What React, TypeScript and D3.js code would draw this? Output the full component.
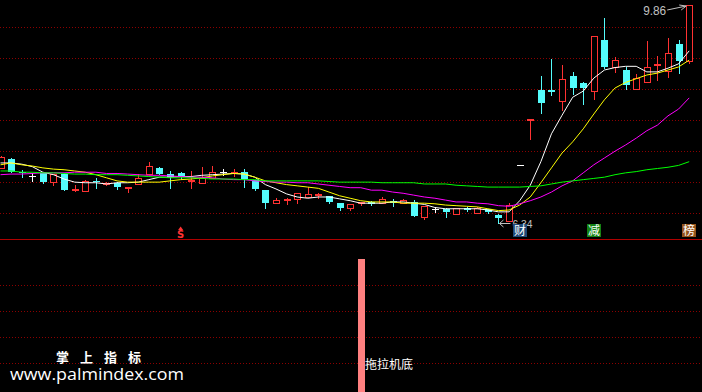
import React from "react";
import * as d3 from "d3";

const W = 702;
const H = 392;

const opens = [7.23, 7.37, 7.16, 7.10, 7.15, 7.00, 7.13, 6.86, 6.86, 7.02,
  6.96, 6.99, 6.91, 6.97, 7.13, 7.23, 7.13, 7.14, 7.02, 6.99,
  7.07, 7.16, 7.16, 7.16, 7.04, 6.87, 6.66, 6.72, 6.73, 6.76,
  6.80, 6.78, 6.66, 6.58, 6.65, 6.68, 6.66, 6.69, 6.66, 6.68,
  6.44, 6.57, 6.57, 6.49, 6.58, 6.50, 6.57, 6.47, 6.37, 7.28,
  8.01, 8.49, 8.48, 8.31, 8.71, 8.60, 8.47, 9.30, 8.86, 8.81,
  8.50, 8.62, 8.90, 8.79, 9.23, 8.96];
const closes = [7.41, 7.16, 7.14, 7.10, 7.00, 7.13, 6.87, 6.89, 7.02, 7.00,
  6.99, 6.92, 6.92, 7.07, 7.26, 7.13, 7.08, 7.10, 7.04, 7.07,
  7.16, 7.16, 7.17, 7.05, 6.89, 6.66, 6.71, 6.73, 6.82, 6.81,
  6.81, 6.68, 6.58, 6.65, 6.68, 6.65, 6.73, 6.67, 6.71, 6.45,
  6.62, 6.57, 6.52, 6.58, 6.55, 6.58, 6.52, 6.42, 6.63, 7.28,
  8.02, 8.28, 8.46, 8.67, 8.52, 8.52, 9.36, 8.86, 8.97, 8.57,
  8.68, 8.86, 8.91, 9.09, 8.96, 9.86];
const highs = [7.42, 7.39, 7.20, 7.15, 7.15, 7.13, 7.15, 6.95, 7.04, 7.07,
  7.00, 7.00, 6.92, 7.13, 7.33, 7.24, 7.18, 7.16, 7.18, 7.24,
  7.26, 7.21, 7.21, 7.21, 7.04, 6.87, 6.74, 6.74, 6.82, 6.92,
  6.82, 6.78, 6.66, 6.65, 6.68, 6.70, 6.76, 6.73, 6.73, 6.71,
  6.62, 6.60, 6.58, 6.58, 6.60, 6.60, 6.57, 6.49, 6.66, 7.28,
  8.02, 8.71, 8.99, 8.89, 8.78, 8.62, 9.36, 9.65, 9.02, 8.86,
  8.75, 9.28, 9.04, 9.33, 9.30, 9.86];
const lows = [7.23, 7.16, 7.08, 7.02, 6.99, 6.95, 6.87, 6.86, 6.86, 6.91,
  6.95, 6.89, 6.84, 6.97, 7.13, 7.13, 6.91, 7.05, 6.91, 6.99,
  7.07, 7.12, 7.10, 6.92, 6.88, 6.58, 6.66, 6.65, 6.66, 6.76,
  6.74, 6.66, 6.55, 6.55, 6.63, 6.63, 6.66, 6.62, 6.66, 6.45,
  6.41, 6.52, 6.44, 6.49, 6.53, 6.50, 6.50, 6.34, 6.37, 7.28,
  7.70, 8.12, 8.41, 8.16, 8.42, 8.26, 8.34, 8.84, 8.78, 8.50,
  8.50, 8.62, 8.65, 8.70, 8.76, 8.92];

const ma5 = [7.31, 7.31, 7.29, 7.25, 7.16, 7.12, 7.05, 7.00, 6.99, 6.99,
  6.97, 6.99, 6.99, 7.00, 7.04, 7.08, 7.08, 7.09, 7.09, 7.11,
  7.12, 7.13, 7.14, 7.13, 7.08, 6.96, 6.89, 6.81, 6.76, 6.74,
  6.76, 6.76, 6.73, 6.70, 6.66, 6.66, 6.66, 6.68, 6.68, 6.66,
  6.64, 6.59, 6.57, 6.57, 6.57, 6.57, 6.55, 6.52, 6.52, 6.70,
  6.95, 7.33, 7.78, 8.08, 8.37, 8.47, 8.68, 8.81, 8.85, 8.87,
  8.87, 8.78, 8.78, 8.84, 8.91, 9.12];
const ma10 = [7.28, 7.31, 7.28, 7.26, 7.23, 7.21, 7.20, 7.18, 7.16, 7.12,
  7.07, 7.02, 7.00, 7.00, 7.00, 7.00, 7.02, 7.04, 7.05, 7.07,
  7.10, 7.12, 7.14, 7.13, 7.08, 7.02, 6.99, 6.96, 6.94, 6.92,
  6.90, 6.84, 6.78, 6.74, 6.70, 6.68, 6.68, 6.68, 6.66, 6.66,
  6.66, 6.65, 6.63, 6.62, 6.61, 6.60, 6.57, 6.54, 6.55, 6.63,
  6.76, 6.99, 7.23, 7.47, 7.65, 7.86, 8.10, 8.33, 8.52, 8.61,
  8.67, 8.73, 8.76, 8.81, 8.86, 8.97];
const ma20 = [7.12, 7.13, 7.13, 7.14, 7.15, 7.15, 7.15, 7.16, 7.16, 7.16,
  7.14, 7.14, 7.13, 7.12, 7.11, 7.11, 7.10, 7.09, 7.08, 7.08,
  7.07, 7.05, 7.04, 7.04, 7.02, 7.01, 7.00, 7.00, 6.99, 6.99,
  6.97, 6.95, 6.93, 6.91, 6.91, 6.87, 6.87, 6.84, 6.82, 6.79,
  6.76, 6.74, 6.71, 6.68, 6.68, 6.66, 6.65, 6.62, 6.61, 6.65,
  6.70, 6.76, 6.84, 6.94, 7.02, 7.15, 7.28, 7.39, 7.50, 7.60,
  7.71, 7.83, 7.92, 8.07, 8.18, 8.36];
const ma60 = [7.18, 7.18, 7.16, 7.16, 7.15, 7.15, 7.14, 7.13, 7.13, 7.12,
  7.12, 7.12, 7.11, 7.10, 7.09, 7.08, 7.07, 7.07, 7.07, 7.06,
  7.05, 7.05, 7.05, 7.04, 7.04, 7.02, 7.02, 7.02, 7.02, 7.02,
  7.02, 7.01, 7.00, 7.00, 7.00, 7.00, 6.99, 6.99, 6.99, 6.99,
  6.97, 6.97, 6.97, 6.95, 6.94, 6.93, 6.92, 6.92, 6.92, 6.92,
  6.93, 6.94, 6.97, 7.00, 7.02, 7.04, 7.06, 7.08, 7.12, 7.15,
  7.17, 7.20, 7.22, 7.24, 7.27, 7.33];

const signalIndex = [34];
const signalLabel = "拖拉机底";
const markerIndex = [17, 49, 56, 65];
const markerLabel = ["S", "财", "减", "榜"];
const watermarkTitle = "掌 上 指 标";
const watermarkUrl = "www.palmindex.com";

const UP = "#ff3232";
const DOWN = "#54fcfc";
const GRID = "#8c0000";
const LABEL = "#c0c0c0";
const markerFill: Record<string, string> = { "财": "#1f4a78", "减": "#138213", "榜": "#94531a" };

export default function App() {
  const n = opens.length;
  const x = d3.scaleLinear().domain([0, n - 1]).range([0.5, 689.2]);
  const pMin = d3.min(lows) as number;
  const pMax = d3.max(highs) as number;
  const y = d3.scaleLinear().domain([pMin, pMax]).range([223, 5]);
  const gridY = d3.scaleLinear().domain([0, 6]).range([27, 213]);
  const lowGridY = d3.scaleLinear().domain([0, 3]).range([285, 363]);
  const sigY = d3.scaleLinear().domain([0, 1]).range([392, 259]);
  const line = d3.line<number>().x((_, i) => x(i)).y((d) => y(d));

  const iMax = highs.indexOf(pMax);
  const iMin = lows.indexOf(pMin);
  const hx = x(iMax), hy = y(pMax);
  const lx = x(iMin), ly = y(pMin);

  const candles = opens.map((o, i) => {
    const c = closes[i], h = highs[i], l = lows[i];
    const cx = Math.round(x(i));
    const left = cx - 3;
    const yh = Math.round(y(h)), yl = Math.round(y(l));
    const yo = Math.round(y(o)), yc = Math.round(y(c));
    if (c > o) {
      const top = yc, bot = yo;
      if (bot - top <= 2) {
        return (
          <g key={i} fill={UP}>
            <rect x={left} y={top} width={7} height={Math.max(2, bot - top)} />
            {yh < top && <rect x={cx} y={yh} width={1} height={top - yh} />}
            {yl > top + 1 && <rect x={cx} y={top + 1} width={1} height={yl - top} />}
          </g>
        );
      }
      return (
        <g key={i}>
          <rect x={left + 0.5} y={top + 0.5} width={6} height={bot - top} fill="#000" stroke={UP} />
          {yh < top && <rect x={cx} y={yh} width={1} height={top - yh} fill={UP} />}
          {yl > bot + 1 && <rect x={cx} y={bot + 1} width={1} height={yl - bot} fill={UP} />}
        </g>
      );
    }
    if (c < o) {
      return (
        <g key={i} fill={DOWN}>
          <rect x={cx} y={yh} width={1} height={Math.max(1, yl - yh + 1)} />
          <rect x={left} y={yo} width={7} height={Math.max(1, yc - yo)} />
        </g>
      );
    }
    return (
      <g key={i} fill="#ffffff">
        {yl > yh && <rect x={cx} y={yh} width={1} height={yl - yh + 1} />}
        <rect x={left} y={yo} width={7} height={1} />
      </g>
    );
  });

  return (
    <svg width={W} height={H} style={{ position: "absolute", left: 0, top: 0, display: "block", background: "#000" }}>
      <rect x={0} y={0} width={W} height={H} fill="#000" />
      {d3.range(7).map((k) => (
        <line key={"g" + k} x1={0} x2={W} y1={Math.round(gridY(k)) + 0.5} y2={Math.round(gridY(k)) + 0.5}
          stroke={GRID} strokeDasharray="1 2" shapeRendering="crispEdges" />
      ))}
      {d3.range(4).map((k) => (
        <line key={"lg" + k} x1={0} x2={W} y1={Math.round(lowGridY(k)) + 0.5} y2={Math.round(lowGridY(k)) + 0.5}
          stroke={GRID} strokeDasharray="1 2" shapeRendering="crispEdges" />
      ))}
      <line x1={0} x2={W} y1={239.5} y2={239.5} stroke="#b00000" shapeRendering="crispEdges" />

      <g shapeRendering="crispEdges">{candles}</g>

      <g fill="none" strokeWidth={1}>
        <path d={line(ma5) || ""} stroke="#ffffff" />
        <path d={line(ma10) || ""} stroke="#ffff00" />
        <path d={line(ma20) || ""} stroke="#ff00ff" />
        <path d={line(ma60) || ""} stroke="#00ff00" />
      </g>

      {/* max label */}
      <g stroke={LABEL} fill="none">
        <path d={`M${hx - 22},${hy + 5} L${hx - 3},${hy + 1}`} />
        <path d={`M${hx - 3},${hy + 1} L${hx - 10},${hy} M${hx - 3},${hy + 1} L${hx - 8},${hy + 5}`} />
      </g>
      <text x={hx - 46} y={hy + 10} fontFamily="Liberation Sans, Arial, sans-serif" fontSize={13}
        fill={LABEL} textLength={23} lengthAdjust="spacingAndGlyphs">{pMax.toFixed(2)}</text>

      {/* min label */}
      <g stroke={LABEL} fill="none">
        <path d={`M${lx + 1},${ly + 0.5} L${lx + 12},${ly + 0.5}`} />
        <path d={`M${lx + 1},${ly + 0.5} L${lx + 5},${ly - 3} M${lx + 1},${ly + 0.5} L${lx + 5},${ly + 4}`} />
      </g>
      <text x={lx + 14} y={ly + 5} fontFamily="Liberation Sans, Arial, sans-serif" fontSize={11}
        fill={LABEL} textLength={20} lengthAdjust="spacingAndGlyphs">{pMin.toFixed(2)}</text>

      {/* event markers */}
      {markerIndex.map((mi, k) => {
        const cx = x(mi);
        const lab = markerLabel[k];
        if (lab === "S") {
          return (
            <g key={"m" + k} fill={UP}>
              <path d={`M${cx - 2.5},${230} L${cx},${226.5} L${cx + 2.5},${230} Z`} />
              <text x={cx} y={238} textAnchor="middle" fontFamily="DejaVu Sans, sans-serif" fontWeight="bold"
                fontSize={10}>{lab}</text>
            </g>
          );
        }
        return (
          <g key={"m" + k}>
            <rect x={Math.round(cx) - 7} y={224} width={14} height={13} fill={markerFill[lab]} />
            <text x={Math.round(cx)} y={235} textAnchor="middle" fontFamily="Noto Sans CJK SC, sans-serif"
              fontSize={12} fill="#ffffff">{lab}</text>
          </g>
        );
      })}

      {/* lower panel signal */}
      {signalIndex.map((si) => (
        <g key={"s" + si}>
          <rect x={Math.round(x(si)) - 3} y={sigY(1)} width={7} height={sigY(0) - sigY(1)} fill="#ff8080" />
          <text x={Math.round(x(si)) + 4} y={369} fontFamily="Noto Sans CJK SC, sans-serif" fontSize={12}
            fill="#ffffff">{signalLabel}</text>
        </g>
      ))}

      {/* watermark */}
      <text x={56} y={362} fontFamily="Noto Sans CJK SC, sans-serif" fontWeight="bold" fontSize={13}
        fill="#ffffff" textLength={85} lengthAdjust="spacing">{watermarkTitle}</text>
      <text x={10} y={380} fontFamily="Open Sans, Noto Sans, sans-serif" fontSize={16}
        fill="#ffffff" textLength={174} lengthAdjust="spacingAndGlyphs">{watermarkUrl}</text>
    </svg>
  );
}
